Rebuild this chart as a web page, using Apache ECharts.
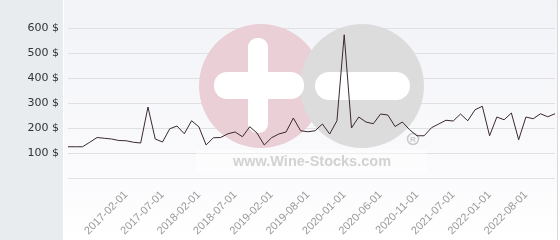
<!DOCTYPE html>
<html><head><meta charset="utf-8">
<script src="https://cdn.jsdelivr.net/npm/echarts@6/dist/echarts.min.js"></script>
<style>html,body{margin:0;padding:0;background:#fff}#c{width:560px;height:240px}</style>
</head><body><div id="c"></div>
<script>
var dates = [
 '2016-06-01','2016-07-01','2016-08-01','2016-09-01','2016-10-01','2016-11-01','2016-12-01','2017-01-01',
 '2017-02-01','2017-03-01','2017-04-01','2017-05-01','2017-06-01','2017-07-01',
 '2017-08-01','2017-10-01','2017-11-01','2018-01-01',
 '2018-02-01','2018-03-01','2018-04-01','2018-05-01','2018-06-01','2018-07-01',
 '2018-08-01','2018-10-01','2018-11-01','2019-01-01',
 '2019-02-01','2019-03-01','2019-04-01','2019-05-01','2019-07-01',
 '2019-08-01','2019-09-01','2019-10-01','2019-11-01','2019-12-01',
 '2020-01-01','2020-02-01','2020-03-01','2020-04-01','2020-05-01',
 '2020-06-01','2020-07-01','2020-08-01','2020-09-01','2020-10-01',
 '2020-11-01','2020-12-01','2021-02-01','2021-04-01','2021-05-01',
 '2021-07-01','2021-08-01','2021-09-01','2021-10-01','2021-12-01',
 '2022-01-01','2022-02-01','2022-03-01','2022-05-01','2022-06-01',
 '2022-08-01','2022-09-01','2022-10-01','2022-11-01','2022-12-01'
];
var prices = [
 125,125,125,143,162,159,156,150,
 149,143,140,284,156,144,
 197,208,177,229,
 205,132,161,162,177,184,
 165,205,180,132,
 161,176,184,240,189,
 185,189,216,176,229,
 573,200,244,224,217,
 256,252,206,224,193,
 169,169,201,216,231,
 228,256,229,273,287,
 169,244,233,260,153,
 244,237,257,245,257
];
var yTicks = [0,100,200,300,400,500,600];
var firstLabelIndex = 8, labelStep = 5;

var chart = echarts.init(document.getElementById('c'), null, {renderer:'canvas'});
chart.setOption({
  animation:false,
  backgroundColor:'#ffffff',
  graphic:[
    {type:'rect', z:-10, silent:true, shape:{x:0,y:0,width:63,height:240}, style:{fill:'#e8ecef'}},
    {type:'rect', z:-10, silent:true, shape:{x:64,y:0,width:493,height:240},
      style:{fill:new echarts.graphic.LinearGradient(0,0,0,1,[{offset:0,color:'#f2f3f7'},{offset:0.75,color:'#fbfbfd'},{offset:1,color:'#ffffff'}])}},
    {type:'rect', z:-10, silent:true, shape:{x:557,y:0,width:1,height:240}, style:{fill:'#d9d9d9'}},
    {type:'rect', z:1, silent:true, shape:{x:196,y:150,width:231,height:23}, style:{fill:'rgba(255,255,255,0.45)'}},
    {type:'circle', z:1, silent:true, shape:{cx:261,cy:86,r:62}, style:{fill:'#eacfd6'}},
    {type:'circle', z:1, silent:true, shape:{cx:362,cy:86,r:62}, style:{fill:'#dcdcdc'}},
    {type:'rect', z:1, silent:true, shape:{x:214,y:72,width:90,height:27,r:13}, style:{fill:'#ffffff'}},
    {type:'rect', z:1, silent:true, shape:{x:248,y:38,width:20,height:95,r:9}, style:{fill:'#ffffff'}},
    {type:'rect', z:1, silent:true, shape:{x:315,y:72,width:95,height:28,r:14}, style:{fill:'#ffffff'}},
    {type:'text', z:1, silent:true, x:312, y:162, style:{text:'www.Wine-Stocks.com', fill:'#d2d2d2', font:'bold 14.5px "Liberation Sans", Arial, sans-serif', align:'center', verticalAlign:'middle'}},
    {type:'circle', z:1, silent:true, shape:{cx:413,cy:139,r:5.5}, style:{fill:'none', stroke:'#c8c8c8', lineWidth:1.5}},
    {type:'text', z:1, silent:true, x:413, y:139.5, style:{text:'R', fill:'#c8c8c8', font:'bold 8px "Liberation Sans", Arial, sans-serif', align:'center', verticalAlign:'middle'}}
  ],
  grid:{left:68, right:5, top:28, bottom:62},
  xAxis:{
    type:'category', data:dates, boundaryGap:false,
    axisLine:{show:false}, axisTick:{show:false},
    axisLabel:{
      interval:function(i){ return i>=firstLabelIndex && (i-firstLabelIndex)%labelStep===0; },
      rotate:45, margin:15, color:'#999999', fontSize:11, fontFamily:'"Liberation Sans", Arial, sans-serif'
    },
    splitLine:{show:false}
  },
  yAxis:{
    type:'value', min:yTicks[0], max:yTicks[yTicks.length-1], interval:100,
    axisLine:{show:false}, axisTick:{show:false},
    axisLabel:{margin:9, color:'#333333', fontSize:11, fontFamily:'"DejaVu Sans", sans-serif',
      formatter:function(v){ return v===0 ? '' : v + ' $'; }},
    splitLine:{lineStyle:{color:'#e0e0e0', width:1}}
  },
  series:[{
    type:'line', data:prices, symbol:'none', z:3,
    lineStyle:{color:'#3b2832', width:1}
  }]
});
</script></body></html>
